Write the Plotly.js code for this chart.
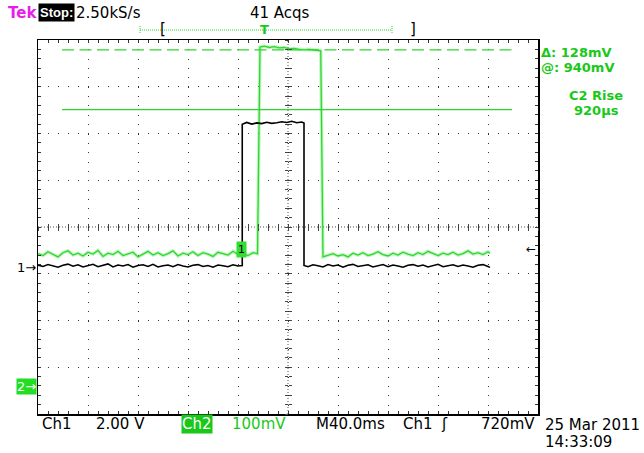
<!DOCTYPE html>
<html><head><meta charset="utf-8">
<script src="https://cdn.plot.ly/plotly-3.0.1.min.js"></script>
<style>html,body{margin:0;padding:0;background:#fff}#chart{width:644px;height:453px}</style>
</head><body><div id="chart"></div>
<script>
// ---- Data (time in ms, Ch1 in volts, Ch2 in mV) ----
const ch1Scale = 2.0;      // V/div
const ch1Pos = -0.834;     // div (ground marker)
const ch2Scale = 100;      // mV/div
const ch2Pos = -3.40;      // div (ground marker)

const ch1PreTime = [-200,-196,-192,-188,-184,-180,-176,-172,-168,-164,-160,-156,-152,-148,-144,-140,-136,-132,-128,-124,-120,-116,-112,-108,-104,-100,-96,-92,-88,-84,-80,-76,-72,-68,-64,-60,-56,-52,-48,-44,-40,-36.6];
const ch1PreV = [0.04,-0.02,0.06,0.01,-0.05,0.03,0.08,-0.01,0.05,-0.04,0.02,0.07,-0.03,0.03,0.09,-0.04,0.04,0.00,0.06,-0.05,0.02,0.05,-0.02,0.07,-0.04,0.01,0.04,-0.03,0.06,0.00,-0.04,0.03,0.06,-0.02,0.02,-0.05,0.04,0.01,-0.03,0.05,0.00,0.02];
const ch1TopTime = [-36.6,-33,-29,-25,-21,-17,-13,-9,-5,-1,3,7,11,12.8];
const ch1TopV = [6.06,6.14,6.07,6.12,6.09,6.15,6.10,6.13,6.17,6.14,6.19,6.13,6.16,6.12];
const ch1PostTime = [12.8,16,20,24,28,32,36,40,44,48,52,56,60,64,68,72,76,80,84,88,92,96,100,104,108,112,116,120,124,128,132,136,140,144,148,152,156,160,161.6];
const ch1PostV = [0.02,-0.03,0.05,0.01,-0.04,0.06,0.00,0.04,-0.05,0.03,0.07,-0.02,0.02,0.05,-0.04,0.01,0.06,-0.03,0.04,0.00,-0.05,0.03,0.06,-0.01,0.04,-0.04,0.02,0.07,-0.03,0.01,0.05,-0.02,0.04,0.00,-0.05,0.03,0.06,-0.02,-0.06];

const ch2PreTime = [-200,-196,-192,-188,-184,-180,-176,-172,-168,-164,-160,-156,-152,-148,-144,-140,-136,-132,-128,-124,-120,-116,-112,-108,-104,-100,-96,-92,-88,-84,-80,-76,-72,-68,-64,-60,-56,-52,-48,-44,-40,-36,-32,-28,-24.4];
const ch2PreMv = [283,279,287,281,276,285,289,280,284,278,286,282,290,277,284,281,288,279,283,286,276,282,288,280,285,279,283,289,278,284,281,287,279,285,282,277,286,283,280,288,281,284,279,285,283];
const ch2TopTime = [-22.4,-19,-15,-11,-7,-3,1,5,9,13,17,21,25,26.2];
const ch2TopMv = [725,727,724,726,723,724,721,722,720,719,720,718,717,717];
const ch2PostTime = [28,32,36,40,44,48,52,56,60,64,68,72,76,80,84,88,92,96,100,104,108,112,116,120,124,128,132,136,140,144,148,152,156,160,161.6];
const ch2PostMv = [276,279,283,278,281,276,284,280,285,279,282,287,281,278,284,280,286,282,279,285,281,288,283,279,284,281,286,280,283,289,282,285,281,287,284];

// Cursors (Ch2, mV) and their extent (ms)
const cursorLevels = [719, 591];
const cursorSpan = [-180.8, 179.2];

// ---- helpers ----
const ch1Div = v => v / ch1Scale + ch1Pos;
const ch2Div = v => v / ch2Scale + ch2Pos;
const L = 38, T = 40, W = 500, H = 374;
const xp = px => (px - L) / W;
const yp = py => (T + H - py) / H;

const GREEN = '#2fd62f';
const TXTGREEN = '#19c819';
const FONT = 'DejaVu Sans, sans-serif';

const traces = [
  {x: ch2PreTime.concat(ch2TopTime, ch2PostTime),
   y: ch2PreMv.concat(ch2TopMv, ch2PostMv).map(ch2Div),
   mode:'lines', line:{color:'rgba(80,230,80,0.35)', width:3.5}, hoverinfo:'skip'},
  {x: ch2PreTime.concat(ch2TopTime, ch2PostTime),
   y: ch2PreMv.concat(ch2TopMv, ch2PostMv).map(ch2Div),
   mode:'lines', line:{color:GREEN, width:1.3}},
  {x: ch1PreTime.concat(ch1TopTime, ch1PostTime),
   y: ch1PreV.concat(ch1TopV, ch1PostV).map(ch1Div),
   mode:'lines', line:{color:'#000', width:1.6}},
  {x: cursorSpan, y: [cursorLevels[0], cursorLevels[0]].map(ch2Div),
   mode:'lines', line:{color:GREEN, width:1.2, dash:'12px,5.5px'}},
  {x: cursorSpan, y: [cursorLevels[1], cursorLevels[1]].map(ch2Div),
   mode:'lines', line:{color:GREEN, width:1.2}},
  {x: [], y: [], xaxis:'x2', yaxis:'y2', mode:'lines'},
  {x: [], y: [], xaxis:'x3', yaxis:'y3', mode:'lines'}
];

function ann(text, px, py, o) {
  o = o || {};
  return Object.assign({text, x: xp(px), y: yp(py), xref:'paper', yref:'paper',
    showarrow:false, xanchor:o.xa || 'left', yanchor:'middle',
    font:{family:o.family || FONT, size:o.size || 15, color:o.color || '#000'},
    borderpad:o.bp === undefined ? 0 : o.bp}, o.bg ? {bgcolor:o.bg} : {});
}

const annotations = [
  ann('<b>Tek</b>', 7, 13, {color:'#e81ee8'}),
  ann('<b>Stop:</b>', 38, 13, {color:'#fff', bg:'#000', size:13, family:'Liberation Sans, sans-serif', bp:1}),
  ann('2.50kS/s', 75, 13),
  ann('41 Acqs', 249, 13),
  ann('[', 159, 29, {size:15}),
  ann(']', 409, 29, {size:15}),
  ann('<b>T</b>', 264, 30, {xa:'center', color:TXTGREEN, size:13}),
  ann('<b>Δ: 128mV</b>', 540, 52, {color:TXTGREEN, size:13}),
  ann('<b>@: 940mV</b>', 540, 67.5, {color:TXTGREEN, size:13}),
  ann('<b>C2 Rise</b>', 596, 95, {xa:'center', color:TXTGREEN, size:13}),
  ann('<b>920µs</b>', 596, 110.5, {xa:'center', color:TXTGREEN, size:13}),
  ann('Ch1', 41, 424),
  ann('2.00 V', 95, 424),
  ann('Ch2', 181, 424, {color:'#fff', bg:'#19c819'}),
  ann('100mV', 231, 424, {color:TXTGREEN}),
  ann('M40.0ms', 315, 424),
  ann('Ch1', 402, 424),
  ann('ʃ', 444, 424, {xa:'center'}),
  ann('720mV', 480, 424),
  ann('25 Mar 2011', 544, 425),
  ann('14:33:09', 544, 442),
  ann('1→', 37, 267, {xa:'right', size:13}),
  ann('2→', 37, 386, {xa:'right', size:13, color:'#fff', bg:'#22dd22'}),
  ann('←', 537, 249, {xa:'right', size:12}),
  ann('1', 241, 249, {xa:'center', size:11, color:'#000', bg:'#33dd33', bp:1})
];

const shapes = [
  {type:'line', xref:'paper', yref:'paper', x0:xp(140), x1:xp(392), y0:yp(30), y1:yp(30),
   line:{color:GREEN, width:1, dash:'1px,1px'}},
  {type:'line', xref:'paper', yref:'paper', x0:xp(140), x1:xp(140), y0:yp(26), y1:yp(34),
   line:{color:GREEN, width:1, dash:'1px,1px'}},
  {type:'line', xref:'paper', yref:'paper', x0:xp(392), x1:xp(392), y0:yp(26), y1:yp(34),
   line:{color:GREEN, width:1, dash:'1px,1px'}},
  {type:'line', xref:'x', yref:'paper', x0:0, x1:0, y0:0, y1:1, layer:'below',
   line:{color:'#555', width:1, dash:'1px,2px'}},
  {type:'line', xref:'paper', yref:'y', x0:0, x1:1, y0:0, y1:0, layer:'below',
   line:{color:'#555', width:1, dash:'1px,2px'}}
];

const crossX = {range:[-200,200], tick0:0, dtick:8, ticklen:3, tickcolor:'#444', tickwidth:1,
  showticklabels:false, showgrid:false, zeroline:false, showline:false, fixedrange:true};
const crossY = {range:[-4,4], tick0:0, dtick:0.2, ticklen:3, tickcolor:'#444', tickwidth:1,
  showticklabels:false, showgrid:false, zeroline:false, showline:false, fixedrange:true};

const layout = {
  width:644, height:453, margin:{l:L, r:644-L-W, t:T, b:453-T-H},
  paper_bgcolor:'#fff', plot_bgcolor:'#fff', showlegend:false,
  xaxis:{range:[-200,200], tick0:0, dtick:40, showticklabels:false, zeroline:false,
    showgrid:true, gridcolor:'#333', gridwidth:1, griddash:'1px,8.35px',
    showline:true, linecolor:'#000', linewidth:1.5, mirror:'allticks',
    ticks:'inside', ticklen:3, tickcolor:'#333',
    minor:{dtick:8, ticks:'inside', ticklen:3, tickcolor:'#333', showgrid:false}},
  yaxis:{range:[-4,4], tick0:0, dtick:1, showticklabels:false, zeroline:false,
    showgrid:true, gridcolor:'#333', gridwidth:1, griddash:'1px,9px',
    showline:true, linecolor:'#000', linewidth:1.5, mirror:'allticks',
    ticks:'inside', ticklen:3, tickcolor:'#333',
    minor:{dtick:0.2, ticks:'inside', ticklen:3, tickcolor:'#333', showgrid:false}},
  xaxis2:Object.assign({overlaying:'x', anchor:'free', position:0.5, ticks:'inside'}, crossX),
  xaxis3:Object.assign({overlaying:'x', anchor:'free', position:0.5, ticks:'outside'}, crossX),
  yaxis2:Object.assign({overlaying:'y', anchor:'free', position:0.5, ticks:'inside'}, crossY),
  yaxis3:Object.assign({overlaying:'y', anchor:'free', position:0.5, ticks:'outside'}, crossY),
  annotations, shapes
};

Plotly.newPlot('chart', traces, layout, {staticPlot:true, displayModeBar:false});
</script></body></html>
